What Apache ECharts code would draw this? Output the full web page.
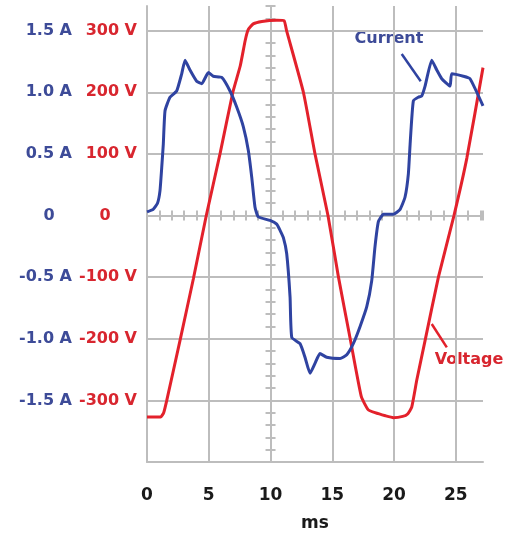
<!DOCTYPE html>
<html>
<head>
<meta charset="utf-8">
<style>
  html, body { margin: 0; padding: 0; background: #ffffff; }
  #chart { width: 517px; height: 533px; }
</style>
<script src="https://cdn.jsdelivr.net/npm/echarts@6/dist/echarts.min.js"></script>
</head>
<body>
<div id="chart"></div>
<script>
// ---- Data ----
const voltageTime = [0, 1.1, 1.35, 1.6, 2.67, 3.75, 4.8, 5.91, 6.95, 7.55, 7.95, 8.2, 8.6, 9.3, 10.5, 11.1, 11.3, 12.66, 13.6, 14.65, 15.5, 16.45, 17.35, 17.9, 18.46, 19.3, 19.94, 20.7, 21.1, 21.43, 21.84, 22.51, 23.59, 24.85, 25.9, 27.2];
const voltageValues = [-327, -327, -320, -300, -203, -103, 0, 100, 200, 243, 284, 302, 311, 315, 317, 316, 300, 200, 100, 0, -100, -200, -294, -315, -320, -325, -328, -326, -322, -311, -267, -203, -100, 0, 94, 240];

const currentTime = [0, 0.5, 0.85, 1.05, 1.2, 1.32, 1.46, 1.86, 2.4, 2.81, 3.08, 3.48, 4.02, 4.43, 4.97, 5.37, 6.05, 6.72, 7.26, 7.8, 8.2, 8.48, 8.74, 9.0, 9.96, 10.5, 10.77, 11.04, 11.31, 11.58, 11.72, 12.39, 12.79, 13.2, 13.6, 14.0, 14.55, 15.63, 16.17, 16.7, 17.25, 17.79, 18.19, 18.46, 18.73, 19.14, 19.94, 20.49, 20.89, 21.16, 21.3, 21.56, 21.97, 22.24, 22.51, 23.05, 23.46, 23.86, 24.53, 24.67, 25.61, 26.15, 27.2];
const currentValues = [0.03, 0.05, 0.1, 0.2, 0.4, 0.58, 0.85, 0.96, 1.01, 1.15, 1.26, 1.18, 1.09, 1.07, 1.16, 1.13, 1.12, 1.01, 0.88, 0.72, 0.53, 0.31, 0.07, -0.01, -0.04, -0.07, -0.12, -0.18, -0.31, -0.66, -0.99, -1.04, -1.15, -1.28, -1.2, -1.12, -1.15, -1.16, -1.13, -1.04, -0.9, -0.74, -0.53, -0.25, -0.05, 0.01, 0.01, 0.05, 0.15, 0.34, 0.58, 0.93, 0.96, 0.97, 1.05, 1.26, 1.18, 1.11, 1.05, 1.15, 1.13, 1.11, 0.89];

const timeTicks = [0, 5, 10, 15, 20, 25];          // ms
const voltageTicks = [-300, -200, -100, 0, 100, 200, 300];
const currentTicks = [-1.5, -1.0, -0.5, 0, 0.5, 1.0, 1.5];

// annotation leader lines (data coordinates)
const currentLeader = [[20.62, 1.31], [22.16, 1.09]];
const voltageLeader = [[23.05, -176], [24.27, -214]];

// ---- Styles ----
const FONT = '"DejaVu Sans", Verdana, sans-serif';
const GRID_COLOR = '#bdbdbd';
const BLUE_LINE = '#2f43a1';
const RED_LINE = '#e3212b';
const BLUE_TEXT = '#3d4b98';
const RED_TEXT = '#d8262f';

const pairs = (xs, ys) => xs.map((x, i) => [x, ys[i]]);

const chart = echarts.init(document.getElementById('chart'), null, { renderer: 'canvas' });

const tickAxisX = (inside) => ({
  type: 'value', min: 0, max: 27.2, interval: 1, position: 'bottom',
  axisLine: { show: false, onZero: true, onZeroAxisIndex: 0 },
  axisTick: { show: true, inside: inside, length: 5, lineStyle: { color: GRID_COLOR, width: 2 } },
  axisLabel: { show: false }, splitLine: { show: false }
});
const tickAxisY = (inside) => ({
  type: 'value', min: -400, max: 340, interval: 20, position: 'left',
  axisLine: { show: false, onZero: true, onZeroAxisIndex: 3 },
  axisTick: { show: true, inside: inside, length: 5, lineStyle: { color: GRID_COLOR, width: 2 } },
  axisLabel: { show: false }, splitLine: { show: false }
});

const option = {
  animation: false,
  backgroundColor: '#ffffff',
  grid: { left: 147, right: 34, top: 6, bottom: 71, containLabel: false, outerBoundsMode: 'none' },
  xAxis: [
    {
      type: 'value', min: 0, max: 27.2, interval: 5, position: 'bottom',
      axisLine: { show: true, onZero: false, lineStyle: { color: GRID_COLOR, width: 2 } },
      axisTick: { show: false },
      axisLabel: {
        show: true, margin: 25, fontFamily: FONT, fontWeight: 'bold', fontSize: 17, color: '#1a1a1a',
        showMaxLabel: false,
        formatter: v => (timeTicks.indexOf(v) >= 0 ? String(v) : '')
      },
      splitLine: { show: true, showMinLine: false, showMaxLine: false, lineStyle: { color: GRID_COLOR, width: 2 } },
      name: 'ms', nameLocation: 'middle', nameGap: 53,
      nameTextStyle: { fontFamily: FONT, fontWeight: 'bold', fontSize: 17, color: '#1a1a1a' }
    },
    tickAxisX(true),
    tickAxisX(false),
    { // helper axis whose zero sits at 10 ms, used to place the tick ruler
      type: 'value', min: -10, max: 17.2, position: 'bottom', show: false,
      axisLine: { onZero: false }
    }
  ],
  yAxis: [
    {
      type: 'value', min: -400, max: 340, interval: 100, position: 'left',
      axisLine: { show: true, onZero: false, lineStyle: { color: GRID_COLOR, width: 2 } },
      axisTick: { show: false },
      axisLabel: {
        show: true, margin: 10, fontFamily: FONT, fontWeight: 'bold', fontSize: 16, color: RED_TEXT,
        showMinLabel: false, showMaxLabel: false,
        formatter: v => voltageTicks.indexOf(v) < 0 ? '' : (v === 0 ? '{z|0}' : v + ' V'),
        rich: { z: { width: 64, align: 'center', fontFamily: FONT, fontWeight: 'bold', fontSize: 16, color: RED_TEXT } }
      },
      splitLine: { show: true, showMinLine: false, showMaxLine: false, lineStyle: { color: GRID_COLOR, width: 2 } }
    },
    {
      type: 'value', min: -2, max: 1.7, interval: 0.5, position: 'left', offset: 65,
      axisLine: { show: false, onZero: false },
      axisTick: { show: false },
      axisLabel: {
        show: true, margin: 10, fontFamily: FONT, fontWeight: 'bold', fontSize: 16, color: BLUE_TEXT,
        showMinLabel: false, showMaxLabel: false,
        formatter: v => {
          const r = Math.round(v * 10) / 10;
          if (currentTicks.indexOf(r) < 0) return '';
          return r === 0 ? '{z|0}' : r.toFixed(1) + ' A';
        },
        rich: { z: { width: 46, align: 'center', fontFamily: FONT, fontWeight: 'bold', fontSize: 16, color: BLUE_TEXT } }
      },
      splitLine: { show: false }
    },
    tickAxisY(true),
    tickAxisY(false)
  ],
  series: [
    {
      name: 'Voltage', type: 'line', xAxisIndex: 0, yAxisIndex: 0,
      data: pairs(voltageTime, voltageValues),
      showSymbol: false, smooth: 0.15, clip: false,
      lineStyle: { color: RED_LINE, width: 3 },
      markLine: {
        silent: true, symbol: ['none', 'none'], label: { show: false },
        lineStyle: { color: RED_LINE, width: 2.5, type: 'solid' },
        data: [[{ coord: voltageLeader[0] }, { coord: voltageLeader[1] }]]
      }
    },
    {
      name: 'Current', type: 'line', xAxisIndex: 0, yAxisIndex: 1,
      data: pairs(currentTime, currentValues),
      showSymbol: false, smooth: 0.15, clip: false,
      lineStyle: { color: BLUE_LINE, width: 3 },
      markLine: {
        silent: true, symbol: ['none', 'none'], label: { show: false },
        lineStyle: { color: BLUE_LINE, width: 2.5, type: 'solid' },
        data: [[{ coord: currentLeader[0] }, { coord: currentLeader[1] }]]
      }
    }
  ],
  graphic: [
    { type: 'text', x: 389, y: 39, style: { text: 'Current', fill: BLUE_TEXT, font: 'bold 16px ' + FONT, textAlign: 'center', textVerticalAlign: 'middle' } },
    { type: 'text', x: 469, y: 360, style: { text: 'Voltage', fill: RED_TEXT, font: 'bold 16px ' + FONT, textAlign: 'center', textVerticalAlign: 'middle' } }
  ]
};

chart.setOption(option);
</script>
</body>
</html>
